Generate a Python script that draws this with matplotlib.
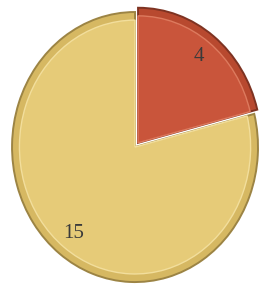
import matplotlib
matplotlib.use("Agg")
import matplotlib.pyplot as plt

values = [4, 15]
labels = ["4", "15"]
face_colors = ["#C9553B", "#E6CB78"]
rim_colors = ["#B8492F", "#D6B862"]
edge_colors = ["#7E3322", "#9C8444"]
inner_edge = ["#DD7A5E", "#F2DE9C"]
explode = [0.04, 0.0]

fig = plt.figure(figsize=(2.73, 2.88), dpi=100)
ax = fig.add_axes([0, 0, 1, 1])

# outer rim
ax.pie(values, explode=explode, startangle=90, counterclock=False,
       colors=rim_colors, radius=1.0,
       wedgeprops={"edgecolor": "none", "linewidth": 0})
for i, w in enumerate(ax.patches):
    w.set_edgecolor(edge_colors[i])
    w.set_linewidth(1.4)

# inner face with light bevel line
wedges, texts, autotexts = ax.pie(
    values, explode=explode, startangle=90, counterclock=False,
    colors=face_colors, radius=0.94,
    autopct=lambda p: f"{round(p * sum(values) / 100):d}", pctdistance=0.86,
    textprops={"family": "Liberation Serif", "fontsize": 15, "color": "#3A3A3A"},
    wedgeprops={"linewidth": 1.0})
for i, w in enumerate(wedges):
    w.set_edgecolor(inner_edge[i])

ax.set_aspect("auto")
ax.set_xlim(-1.098, 1.122)
ax.set_ylim(-1.044, 1.089)
ax.axis("off")

fig.savefig("out.png", dpi=100)
